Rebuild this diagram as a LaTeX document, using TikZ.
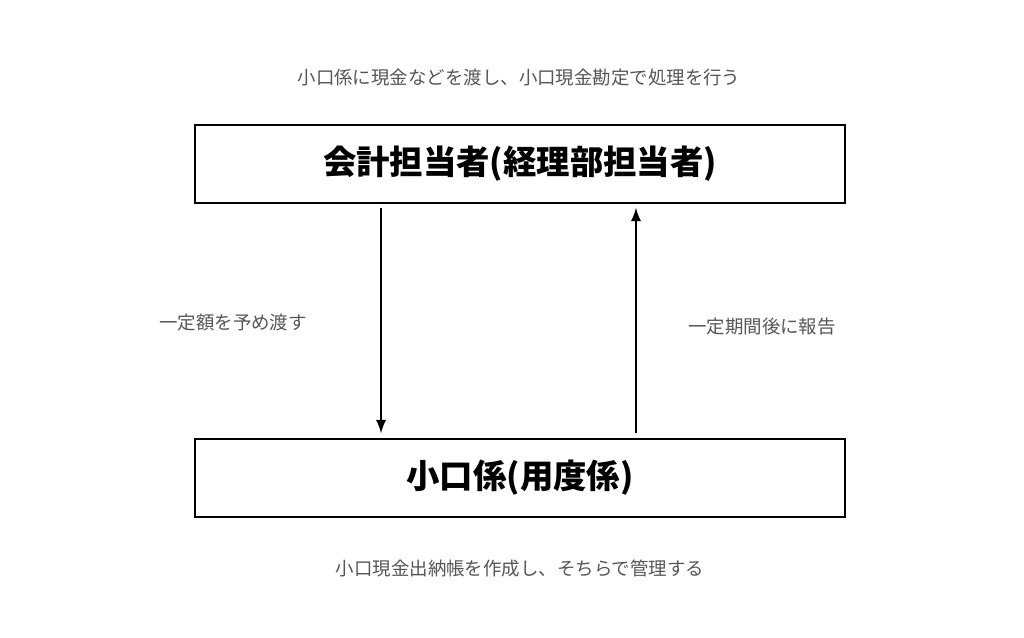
\documentclass[tikz,border=0pt]{standalone}
\usepackage{fontspec}
\usepackage{xcolor}
\newfontfamily\jp{Noto Sans CJK JP}
\definecolor{notegray}{HTML}{555555}
\usetikzlibrary{positioning}

\begin{document}
\begin{tikzpicture}[x=0.02cm,y=-0.02cm,
	box/.style={draw,thick,minimum width=13cm,minimum height=1.56cm,font=\jp\bfseries\fontsize{19}{22}\selectfont},
	note/.style={text=notegray,font=\jp\fontsize{10.5}{12}\selectfont}]
	\useasboundingbox (0,0) rectangle (1024,638);
	
	\node[box] (acct) at (520,164) {会計担当者(経理部担当者)};
	\node[box] (petty) at (520,478) {小口係(用度係)};
	
	\draw[->,>=latex,line width=1.6pt] ([xshift=-2.78cm,yshift=-0.08cm]acct.south) -- ([xshift=-2.78cm,yshift=0.1cm]petty.north);
	\draw[->,>=latex,line width=1.6pt] ([xshift=2.32cm,yshift=0.1cm]petty.north) -- ([xshift=2.32cm,yshift=-0.08cm]acct.south);
	
	\node[note] (top) at (519,78) {小口係に現金などを渡し、小口現金勘定で処理を行う};
	\node[note] (give) at (233,323) {一定額を予め渡す};
	\node[note] (report) at (762,327) {一定期間後に報告};
	\node[note] (bottom) at (520,569) {小口現金出納帳を作成し、そちらで管理する};
\end{tikzpicture}
\end{document}
